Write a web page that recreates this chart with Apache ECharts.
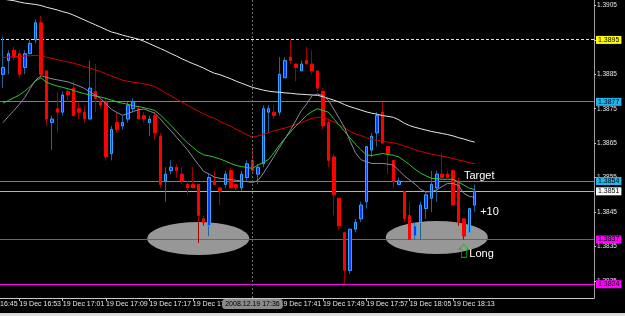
<!DOCTYPE html>
<html><head><meta charset="utf-8">
<script src="https://cdn.jsdelivr.net/npm/echarts@6/dist/echarts.min.js"></script>
<style>html,body{margin:0;padding:0;background:#000;overflow:hidden}
#wrap{width:625px;height:316px;overflow:hidden;position:relative}
#c{width:652px;height:316px;position:absolute;left:-27px;top:0}</style>
</head><body><div id="wrap"><div id="c"></div></div>
<script>
// ---------- data ----------
const dateLabel = '2008.12.19';
const dayPrefix = '19 Dec ';
const times = ['16:45','16:46','16:47','16:48','16:49','16:50','16:51','16:52','16:53','16:54','16:55','16:56','16:57','16:58','16:59',
'17:00','17:01','17:02','17:03','17:04','17:05','17:06','17:07','17:08','17:09','17:10','17:11','17:12','17:13','17:14','17:15','17:16','17:17','17:18','17:19',
'17:20','17:21','17:22','17:23','17:24','17:25','17:26','17:27','17:28','17:29','17:30','17:31','17:32','17:33','17:34','17:35','17:36','17:37','17:38','17:39',
'17:40','17:41','17:42','17:43','17:44','17:45','17:46','17:47','17:48','17:49','17:50','17:51','17:52','17:53','17:54','17:55','17:56','17:57','17:58','17:59',
'18:00','18:01','18:02','18:03','18:04','18:05','18:06','18:07','18:08','18:09','18:10','18:11','18:12','18:13','18:14','18:15','18:16','18:17','18:18','18:19',
'18:20','18:21','18:22','18:23','18:24','18:25','18:26','18:27','18:28','18:29','18:30','18:31','18:32','18:33','18:34','18:35','18:36','18:37','18:38','18:39'];
const candleStart = '16:50';
const crosshairTime = '17:36';

const open = [1.3885,1.3889,1.3892,1.3891,1.3887,1.3891,1.3895,1.3900,1.3886,1.3871,
1.3875,1.3874,1.3880,1.3881,1.3875,1.3874,1.3872,1.3880,1.3877,1.3877,
1.3862,1.3871,1.3870,1.3872,1.3875,1.3875,1.3873,1.3871,1.3873,1.3867,
1.3854,1.3857,1.3858,1.3856,1.3853,1.3853,1.3853,1.3843,1.3841,1.3854,
1.3852,1.3853,1.3857,1.3853,1.3852,1.3855,1.3860,1.3856,1.3859,1.3874,
1.3874,1.3874,1.3884,1.3890,1.3888,1.3886,1.3889,1.3888,1.3886,1.3880,
1.3871,1.3861,1.3849,1.3839,1.3828,1.3840,1.3843,1.3848,1.3863,1.3868,
1.3874,1.3864,1.3860,1.3853,1.3851,1.3844,1.3838,1.3842,1.3846,1.3849,
1.3852,1.3856,1.3856,1.3857,1.3854,1.3843,1.3839,1.3847];
const high = [1.3896,1.3892,1.3893,1.3892,1.3892,1.3895,1.3901,1.3902,1.3886,1.3873,
1.3880,1.3880,1.3881,1.3883,1.3877,1.3876,1.3889,1.3888,1.3878,1.3878,
1.3870,1.3874,1.3873,1.3877,1.3878,1.3876,1.3874,1.3873,1.3874,1.3868,
1.3858,1.3860,1.3859,1.3858,1.3854,1.3858,1.3853,1.3844,1.3856,1.3857,
1.3852,1.3857,1.3858,1.3853,1.3857,1.3860,1.3863,1.3859,1.3876,1.3876,
1.3876,1.3890,1.3890,1.3895,1.3888,1.3889,1.3893,1.3892,1.3886,1.3881,
1.3872,1.3862,1.3849,1.3839,1.3840,1.3843,1.3848,1.3864,1.3868,1.3874,
1.3877,1.3864,1.3860,1.3855,1.3851,1.3848,1.3842,1.3848,1.3851,1.3857,
1.3857,1.3862,1.3857,1.3857,1.3855,1.3843,1.3846,1.3853];
const low = [1.3881,1.3885,1.3889,1.3884,1.3885,1.3891,1.3894,1.3884,1.3870,1.3863,
1.3868,1.3873,1.3877,1.3873,1.3872,1.3871,1.3872,1.3874,1.3875,1.3860,
1.3860,1.3868,1.3869,1.3871,1.3874,1.3872,1.3871,1.3867,1.3866,1.3852,
1.3848,1.3856,1.3855,1.3853,1.3850,1.3852,1.3836,1.3841,1.3838,1.3853,
1.3847,1.3852,1.3852,1.3851,1.3851,1.3854,1.3856,1.3853,1.3858,1.3868,
1.3872,1.3873,1.3884,1.3888,1.3883,1.3886,1.3888,1.3885,1.3880,1.3869,
1.3858,1.3844,1.3840,1.3824,1.3827,1.3839,1.3842,1.3846,1.3861,1.3864,
1.3865,1.3856,1.3852,1.3853,1.3842,1.3837,1.3837,1.3837,1.3843,1.3845,
1.3848,1.3855,1.3855,1.3847,1.3841,1.3837,1.3839,1.3845];
const close = [1.3887,1.3891,1.3890,1.3885,1.3891,1.3894,1.3900,1.3885,1.3872,1.3872,
1.3874,1.3879,1.3879,1.3873,1.3874,1.3872,1.3881,1.3878,1.3876,1.3861,
1.3869,1.3869,1.3871,1.3876,1.3877,1.3872,1.3872,1.3872,1.3868,1.3853,
1.3856,1.3858,1.3857,1.3854,1.3852,1.3852,1.3844,1.3842,1.3855,1.3853,
1.3851,1.3856,1.3852,1.3852,1.3856,1.3859,1.3857,1.3858,1.3875,1.3875,
1.3873,1.3885,1.3889,1.3889,1.3887,1.3888,1.3888,1.3886,1.3881,1.3870,
1.3860,1.3850,1.3841,1.3828,1.3840,1.3842,1.3847,1.3864,1.3867,1.3873,
1.3865,1.3862,1.3854,1.3854,1.3843,1.3837,1.3841,1.3847,1.3850,1.3853,
1.3856,1.3855,1.3855,1.3847,1.3842,1.3838,1.3846,1.3851];

const maWhite = [1.39069,1.39066,1.39064,1.39060,1.39057,1.39055,1.39053,1.39050,1.39045,1.39041,
1.39037,1.39032,1.39028,1.39022,1.39015,1.39008,1.39001,1.38994,1.38987,1.38980,
1.38973,1.38969,1.38964,1.38960,1.38956,1.38952,1.38946,1.38939,1.38932,1.38925,
1.38918,1.38910,1.38903,1.38895,1.38888,1.38881,1.38875,1.38868,1.38860,1.38853,
1.38849,1.38843,1.38837,1.38830,1.38824,1.38818,1.38812,1.38808,1.38804,1.38801,
1.38799,1.38798,1.38796,1.38795,1.38793,1.38792,1.38791,1.38790,1.38789,1.38785,
1.38780,1.38775,1.38769,1.38762,1.38756,1.38751,1.38746,1.38741,1.38737,1.38734,
1.38730,1.38728,1.38725,1.38718,1.38708,1.38701,1.38696,1.38692,1.38688,1.38684,
1.38681,1.38678,1.38675,1.38671,1.38666,1.38662,1.38657,1.38653];
const maRed = [1.38899,1.38900,1.38901,1.38902,1.38903,1.38904,1.38905,1.38903,1.38900,1.38896,
1.38893,1.38889,1.38886,1.38882,1.38878,1.38873,1.38868,1.38863,1.38858,1.38851,
1.38845,1.38839,1.38833,1.38830,1.38827,1.38825,1.38822,1.38819,1.38814,1.38805,
1.38796,1.38787,1.38778,1.38769,1.38760,1.38752,1.38743,1.38735,1.38728,1.38722,
1.38713,1.38706,1.38699,1.38690,1.38683,1.38674,1.38667,1.38671,1.38676,1.38681,
1.38686,1.38690,1.38694,1.38699,1.38704,1.38710,1.38716,1.38722,1.38725,1.38725,
1.38719,1.38712,1.38703,1.38694,1.38684,1.38677,1.38672,1.38666,1.38661,1.38658,
1.38655,1.38653,1.38651,1.38647,1.38642,1.38637,1.38631,1.38626,1.38622,1.38618,
1.38615,1.38612,1.38609,1.38605,1.38601,1.38598,1.38593,1.38590];
const maGreen = [1.38766,1.38774,1.38782,1.38790,1.38801,1.38815,1.38831,1.38840,1.38827,1.38821,
1.38816,1.38812,1.38808,1.38803,1.38798,1.38794,1.38790,1.38787,1.38784,1.38780,
1.38775,1.38770,1.38766,1.38763,1.38759,1.38756,1.38753,1.38749,1.38745,1.38732,
1.38717,1.38701,1.38684,1.38667,1.38651,1.38638,1.38625,1.38616,1.38613,1.38609,
1.38604,1.38598,1.38591,1.38585,1.38582,1.38579,1.38577,1.38586,1.38594,1.38603,
1.38623,1.38645,1.38664,1.38682,1.38700,1.38715,1.38731,1.38742,1.38750,1.38745,
1.38740,1.38721,1.38702,1.38684,1.38665,1.38647,1.38631,1.38616,1.38614,1.38617,
1.38620,1.38617,1.38615,1.38610,1.38599,1.38587,1.38574,1.38563,1.38555,1.38548,
1.38547,1.38545,1.38545,1.38545,1.38537,1.38528,1.38519,1.38515];
const maGray = [1.38710,1.38728,1.38745,1.38763,1.38783,1.38809,1.38833,1.38846,1.38841,1.38837,
1.38834,1.38831,1.38828,1.38822,1.38816,1.38809,1.38799,1.38790,1.38780,1.38764,
1.38748,1.38739,1.38731,1.38736,1.38742,1.38747,1.38749,1.38743,1.38737,1.38720,
1.38702,1.38685,1.38667,1.38649,1.38631,1.38609,1.38588,1.38568,1.38560,1.38551,
1.38548,1.38546,1.38544,1.38542,1.38540,1.38538,1.38536,1.38541,1.38562,1.38587,
1.38612,1.38638,1.38663,1.38688,1.38716,1.38744,1.38764,1.38788,1.38793,1.38788,
1.38775,1.38749,1.38722,1.38695,1.38656,1.38622,1.38602,1.38596,1.38591,1.38591,
1.38591,1.38589,1.38586,1.38571,1.38555,1.38543,1.38531,1.38516,1.38508,1.38509,
1.38514,1.38524,1.38533,1.38533,1.38527,1.38504,1.38495,1.38493];

const yTicks = [1.3825,1.3835,1.3845,1.3855,1.3865,1.3875,1.3885,1.3895,1.3905];
const yMin = 1.38200, yMax = 1.39066;

const levelPrices = [1.3895, 1.3877, 1.3854, 1.3851, 1.3837, 1.3824];
const levelLine = ['#ffff00', '#1e9fda', '#1e9fda', '#b4b4b4', '#ff00ff', '#ff00ff'];
const levelBox  = ['#ffff00', '#22b4ee', '#22b4ee', '#ffffff', '#ff00ff', '#ff00ff'];

const ellipseTimes = ['17:26', '18:10'];
const ellipsePrices = [1.38373, 1.38376];

const noteTexts = ['Target', '+10', 'Long'];
const noteTimes = ['18:15', '18:18', '18:16'];
const notePrices = [1.38554, 1.38449, 1.38327];
const arrowTime = '18:15', arrowPrice = 1.38337;

// ---------- build ----------
const FONT = 'Liberation Sans, Arial, sans-serif';
const start = times.indexOf(candleStart);
const lastIdx = start + open.length - 1;
function pad(arr) { const out = new Array(start).fill('-'); return out.concat(arr); }
const wickData = pad(open.map((o, i) => [o, close[i], low[i], high[i]]));
const bodyData = pad(open.map((o, i) => [o, close[i], Math.min(o, close[i]), Math.max(o, close[i])]));
const showIdx = (i) => i % 8 === 0 && i <= lastIdx;

// price-level boxes on the axis (the level lines are drawn crisp as graphic lines below)
const markLineData = levelPrices.map((p, i) => ({
  yAxis: p,
  lineStyle: { color: 'rgba(0,0,0,0)', width: 1 },
  label: { backgroundColor: levelBox[i] }
}));

function maSeries(name, arr, color) {
  return { name, type: 'line', data: pad(arr), showSymbol: false, symbol: 'none', silent: true, z: 5,
    lineStyle: { color, width: 1 }, emphasis: { disabled: true } };
}

const chart = echarts.init(document.getElementById('c'), null, { renderer: 'canvas' });
chart.setOption({
  animation: false,
  backgroundColor: '#000000',
  grid: { left: 0, right: 31, top: 0, bottom: 18, containLabel: false },
  axisPointer: { triggerOn: 'none' },
  xAxis: {
    type: 'category', data: times, boundaryGap: false,
    axisLine: { show: true, lineStyle: { color: '#c8c8c8', width: 1 } },
    axisTick: { show: true, interval: showIdx, length: 3, lineStyle: { color: '#c8c8c8' } },
    axisLabel: { interval: showIdx, showMinLabel: true, align: 'left', margin: 3, color: '#e6e6e6',
      fontSize: 7, fontFamily: FONT, formatter: (v) => dayPrefix + v },
    splitLine: { show: false },
    axisPointer: {
      show: true, type: 'line', status: 'show', value: times.indexOf(crosshairTime), triggerTooltip: false,
      lineStyle: { color: '#6e6e6e', width: 1, type: [2, 2] },
      label: { show: true, formatter: (p) => dateLabel + ' ' + p.value, backgroundColor: '#8a8a8a',
        color: '#000', fontSize: 7, fontFamily: FONT, padding: [2, 3, 1, 3], margin: 1, borderWidth: 0, shadowBlur: 0 }
    }
  },
  yAxis: {
    type: 'value', position: 'right', min: yMin, max: yMax,
    axisLine: { show: true, lineStyle: { color: '#a0a0a0', width: 1 } },
    axisTick: { show: true, customValues: yTicks, length: 2, lineStyle: { color: '#c8c8c8' } },
    axisLabel: { customValues: yTicks, color: '#e6e6e6', fontSize: 6.5, fontFamily: FONT, margin: 3,
      formatter: (v) => v.toFixed(4) },
    splitLine: { show: false }
  },
  series: [
    { name: 'zones', type: 'scatter', z: 1, silent: true,
      data: ellipseTimes.map((t, i) => [t, ellipsePrices[i]]),
      symbol: 'circle', symbolSize: [102, 33], itemStyle: { color: '#979797', opacity: 1 } },
    { name: 'wicks', type: 'candlestick', data: wickData, barWidth: 1, silent: true, z: 3,
      itemStyle: { color: '#1f6497', color0: '#a00000', borderColor: '#1f6497', borderColor0: '#a00000', borderWidth: 1 } },
    { name: 'bodies', type: 'candlestick', data: bodyData, barWidth: 3, silent: true, z: 4,
      itemStyle: { color: '#0a3cff', color0: '#ff0000', borderColor: '#3aa2ff', borderColor0: '#ff0000', borderWidth: 1 },
      markLine: { silent: true, symbol: ['none', 'none'], precision: 4, animation: false,
        label: { show: true, position: 'end', distance: 2, color: '#000', fontSize: 7, fontFamily: FONT,
          padding: [1, 2, 0, 2], formatter: (p) => Number(p.value).toFixed(4) },
        data: markLineData } },
    maSeries('white', maWhite, '#e8e8e8'),
    maSeries('red', maRed, '#d40000'),
    maSeries('green', maGreen, '#2ec82e'),
    maSeries('gray', maGray, '#8c8c9c'),
    { name: 'arrow', type: 'scatter', z: 6, silent: true,
      data: [[arrowTime, arrowPrice]],
      symbol: 'path://M5,0 L10,5 L7.5,5 L7.5,13 L2.5,13 L2.5,5 L0,5 Z', symbolSize: [10, 13],
      itemStyle: { color: 'rgba(0,0,0,0)', borderColor: '#00c800', borderWidth: 1 } }
  ]
});

// level lines and notes placed through the chart's own coordinate conversion
const xLeft = chart.convertToPixel({ xAxisIndex: 0 }, times[0]);
const xRight = chart.convertToPixel({ xAxisIndex: 0 }, times[times.length - 1]);
const graphics = levelPrices.map((p, i) => {
  const y = Math.floor(chart.convertToPixel({ yAxisIndex: 0 }, p)) + 0.5;
  return { type: 'line', z: 2, silent: true,
    shape: { x1: xLeft, y1: y, x2: xRight, y2: y },
    style: { stroke: levelLine[i], lineWidth: 1, lineDash: i === 0 ? [3, 2] : null } };
});
noteTexts.forEach((t, i) => {
  const pt = chart.convertToPixel({ xAxisIndex: 0, yAxisIndex: 0 }, [noteTimes[i], notePrices[i]]);
  graphics.push({ type: 'text', x: pt[0], y: pt[1], z: 10, silent: true,
    style: { text: t, fill: '#ffffff', font: '11px ' + FONT, textAlign: 'left', textVerticalAlign: 'middle' } });
});
graphics.push({ type: 'rect', left: 0, top: 313, z: 10, silent: true,
  shape: { width: 660, height: 3 }, style: { fill: '#dcdcdc' } });
chart.setOption({ graphic: graphics });
</script>
</body></html>
